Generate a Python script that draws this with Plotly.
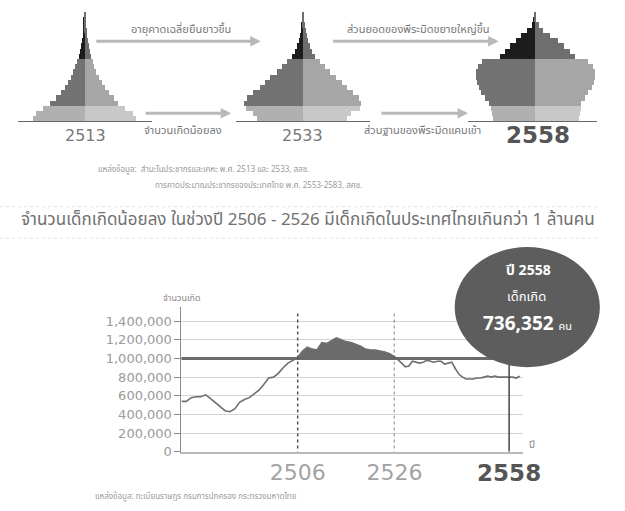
import plotly.graph_objects as go

W, H = 625, 511
def px(x):
    return x / W
def py(y):
    return 1 - y / H

# ---------------- data ----------------
# population pyramids: 21 five-year age rows (0-4 ... 100+), millions per sex
age_rows = list(range(21))
age_labels = ['0-4', '5-9', '10-14', '15-19', '20-24', '25-29', '30-34', '35-39',
              '40-44', '45-49', '50-54', '55-59', '60-64', '65-69', '70-74',
              '75-79', '80-84', '85-89', '90-94', '95-99', '100+']
age_group = ['young'] * 3 + ['work'] * 9 + ['old'] * 9

pyramid_years = ['2513', '2533', '2558']
male_2513 = [2.70, 2.55, 2.20, 1.80, 1.50, 1.25, 1.05, 0.90, 0.75, 0.60, 0.50,
             0.40, 0.30, 0.25, 0.20, 0.15, 0.12, 0.10, 0.08, 0.05, 0.04]
female_2513 = [2.70, 2.50, 2.10, 1.75, 1.50, 1.25, 1.05, 0.90, 0.75, 0.60, 0.50,
               0.40, 0.30, 0.25, 0.20, 0.15, 0.12, 0.10, 0.08, 0.05, 0.04]
male_2533 = [2.40, 2.60, 3.00, 3.10, 2.95, 2.60, 2.25, 2.00, 1.70, 1.35, 1.10,
             0.85, 0.55, 0.40, 0.30, 0.20, 0.15, 0.10, 0.06, 0.03, 0.02]
female_2533 = [2.30, 2.50, 3.00, 3.05, 2.95, 2.65, 2.30, 2.05, 1.75, 1.40, 1.15,
               0.90, 0.65, 0.50, 0.35, 0.25, 0.20, 0.15, 0.10, 0.05, 0.03]
male_2558 = [2.20, 2.25, 2.30, 2.40, 2.60, 2.80, 2.95, 3.05, 3.10, 3.10, 3.00,
             2.75, 1.80, 1.55, 1.30, 1.00, 0.70, 0.40, 0.15, 0.05, 0.03]
female_2558 = [2.30, 2.35, 2.40, 2.40, 2.60, 2.80, 3.00, 3.10, 3.15, 3.15, 3.05,
               2.80, 2.10, 1.85, 1.55, 1.20, 0.80, 0.45, 0.20, 0.08, 0.03]

# births per year (Buddhist Era years)
birth_years = list(range(2482, 2562))
births = [540000, 540000, 580000, 590000, 590000, 610000, 570000, 530000, 480000, 440000,
          430000, 460000, 530000, 560000, 580000, 620000, 660000, 720000, 790000, 800000,
          840000, 900000, 950000, 980000, 1010000,
          1080000, 1120000, 1100000, 1090000, 1170000, 1160000, 1190000, 1220000, 1200000, 1180000,
          1170000, 1150000, 1130000, 1100000, 1090000, 1090000, 1080000, 1070000, 1050000, 1020000,
          990000, 950000, 910000, 920000, 970000, 960000, 950000, 960000, 980000, 970000,
          960000, 970000, 970000, 940000, 950000, 960000, 890000, 830000, 800000, 780000,
          780000, 780000, 790000, 790000, 800000, 810000, 800000, 810000, 800000, 800000,
          800000, 800000, 800000, 790000, 810000]
million_line = 1000000
y_ticks = [0, 200000, 400000, 600000, 800000, 1000000, 1200000, 1400000]
marked_years = [2506, 2526]
latest_year = 2558
latest_births = 736352

# ---------------- figure ----------------
fig = go.Figure()

left_col = {'young': '#b0b0b0', 'work': '#727272', 'old': '#1c1c1c'}
right_col = {'young': '#c8c8c8', 'work': '#a6a6a6', 'old': '#6e6e6e'}
pyr_data = [(male_2513, female_2513), (male_2533, female_2533), (male_2558, female_2558)]
pyr_dom = [(19, 159, 3.5, 3.5), (247, 387, 3.5, 3.5), (490, 625, 3.5, 3.25)]

for i, (m, f) in enumerate(pyr_data):
    n = i + 3
    fig.add_trace(go.Bar(y=age_rows, x=[-v for v in m], orientation='h', width=1,
                         marker=dict(color=[left_col[g] for g in age_group], line=dict(width=0)),
                         xaxis=f'x{n}', yaxis=f'y{n}', showlegend=False, hoverinfo='skip'))
    fig.add_trace(go.Bar(y=age_rows, x=f, orientation='h', width=1,
                         marker=dict(color=[right_col[g] for g in age_group], line=dict(width=0)),
                         xaxis=f'x{n}', yaxis=f'y{n}', showlegend=False, hoverinfo='skip'))
    x0, x1, rl, rr = pyr_dom[i]
    fig.layout[f'xaxis{n}'] = dict(domain=[px(x0), px(x1)], range=[-rl, rr], anchor=f'y{n}',
                                   showline=True, linecolor='#666', linewidth=1,
                                   showticklabels=False, showgrid=False, zeroline=False, ticks='')
    fig.layout[f'yaxis{n}'] = dict(domain=[py(123), py(123 - 21 * 5.3)], range=[-0.5, 20.5],
                                   anchor=f'x{n}', visible=False)

# births line on a two-part time axis
clamped = [max(v, million_line) for v in births]
base = [million_line for _ in births]
for xa in ['x', 'x2']:
    fig.add_trace(go.Scatter(x=birth_years, y=base, mode='lines', line=dict(width=0),
                             xaxis=xa, yaxis='y', showlegend=False, hoverinfo='skip'))
    fig.add_trace(go.Scatter(x=birth_years, y=clamped, mode='lines', line=dict(width=0),
                             fill='tonexty', fillcolor='#6b6b6b',
                             xaxis=xa, yaxis='y', showlegend=False, hoverinfo='skip'))
    fig.add_trace(go.Scatter(x=birth_years, y=births, mode='lines',
                             line=dict(color='#6e6e6e', width=1.6),
                             xaxis=xa, yaxis='y', showlegend=False, hoverinfo='skip'))

fig.update_layout(
    width=W, height=H, margin=dict(l=0, r=0, t=0, b=0),
    paper_bgcolor='white', plot_bgcolor='white',
    barmode='relative', bargap=0,
    xaxis=dict(domain=[px(190), px(413)], range=[2482, 2526], anchor='y',
               tickvals=marked_years, ticktext=[str(v) for v in marked_years],
               tickfont=dict(family='DejaVu Sans', size=22, color='#a3a3a3'),
               showgrid=False, zeroline=False, showline=True, linecolor='#b8b8b8',
               linewidth=2, ticks=''),
    xaxis2=dict(domain=[px(413), px(548)], range=[2526, 2562], anchor='y',
                tickvals=[latest_year], ticktext=[str(latest_year)],
                tickfont=dict(family='DejaVu Sans', size=23, color='#555', weight='bold'),
                showgrid=False, zeroline=False, showline=True, linecolor='#b8b8b8',
                linewidth=2, ticks=''),
    yaxis=dict(domain=[py(459), py(312)], range=[0, 1550000], anchor='x',
               tickvals=y_ticks, ticktext=[f'{v:,}' for v in y_ticks],
               tickfont=dict(family='DejaVu Sans', size=13, color='#9a9a9a'),
               showgrid=True, gridcolor='#d4d4d4', gridwidth=1, zeroline=False,
               showline=True, linecolor='#8a8a8a', linewidth=1,
               ticks='outside', ticklen=6, tickcolor='#8a8a8a'),
)

shapes = []
# faint dotted separators
for yy in [210, 242]:
    shapes.append(dict(type='line', xref='paper', yref='paper', x0=0, x1=1,
                       y0=py(yy), y1=py(yy), line=dict(color='#e2e2e2', width=1, dash='dot')))
# one-million reference line
shapes.append(dict(type='line', xref='paper', yref='y', x0=px(190), x1=px(548),
                   y0=million_line, y1=million_line, line=dict(color='#6a6a6a', width=3)))
for yr in marked_years:
    shapes.append(dict(type='line', xref='x', yref='y', x0=yr, x1=yr, y0=-30000, y1=1500000,
                       line=dict(color='#555', width=1.5, dash='dot')))
shapes.append(dict(type='line', xref='x2', yref='y', x0=latest_year, x1=latest_year,
                   y0=0, y1=1000000, line=dict(color='#444', width=1.5)))
# badge
shapes.append(dict(type='circle', xref='paper', yref='paper', x0=px(476), x1=px(628),
                   y0=py(373), y1=py(251), fillcolor='#5d5d5d', line=dict(width=0),
                   layer='above'))
fig.update_layout(shapes=shapes)

TH = 'Noto Sans Thai, Tahoma, DejaVu Sans, sans-serif'
ann = []
def text(x, y, s, size, color, xanchor='center', bold=False, family=TH):
    ann.append(dict(x=px(x), y=py(y), xref='paper', yref='paper', text=s, showarrow=False,
                    xanchor=xanchor, yanchor='middle',
                    font=dict(family=family, size=size, color=color,
                              weight='bold' if bold else 'normal')))

def arrow(x0, x1, y):
    ann.append(dict(x=px(x1), y=py(y), xref='paper', yref='paper', ax=x0 - x1, ay=0,
                    axref='pixel', ayref='pixel', text='', showarrow=True,
                    arrowhead=2, arrowsize=0.7, arrowwidth=3, arrowcolor='#b8b8b8', standoff=0))

arrow(107, 273, 42)
arrow(355, 522, 42)
arrow(155, 242, 115)
arrow(402, 490, 115)

text(190, 30, 'อายุคาดเฉลี่ยยืนยาวขึ้น', 11, '#777')
text(438, 30, 'ส่วนยอดของพีระมิดขยายใหญ่ขึ้น', 11, '#777')
text(192, 133, 'จำนวนเกิดน้อยลง', 11, '#777')
text(442, 133, 'ส่วนฐานของพีระมิดแคบเข้า', 11, '#777')

pyr_centers = [89, 317, 563]
for yr, cx in zip(pyramid_years, pyr_centers):
    if yr == '2558':
        text(cx, 137, yr, 23, '#555', bold=True, family='DejaVu Sans')
    else:
        text(cx, 138, yr, 16, '#777', family='DejaVu Sans')

text(100, 173, 'แหล่งข้อมูล:  สำมะโนประชากรและเคหะ พ.ศ. 2513 และ 2533, สสช.', 8, '#9a9a9a', xanchor='left')
text(160, 189, 'การคาดประมาณประชากรของประเทศไทย พ.ศ. 2553-2583, สศช.', 8, '#9a9a9a', xanchor='left')

text(20, 223, 'จำนวนเด็กเกิดน้อยลง ในช่วงปี 2506 - 2526 มีเด็กเกิดในประเทศไทยเกินกว่า 1 ล้านคน',
     17, '#707070', xanchor='left')

text(191, 303, 'จำนวนเกิด', 9, '#888')
text(557, 452, 'ปี', 10, '#888')

text(553, 275, f'ปี {latest_year}', 14, 'white', bold=True)
text(551, 302, 'เด็กเกิด', 13, 'white')
ann.append(dict(x=px(552), y=py(330), xref='paper', yref='paper', showarrow=False,
                text=f'<b>{latest_births:,}</b> <span style="font-size:11px">คน</span>',
                xanchor='center', yanchor='middle',
                font=dict(family=TH, size=19, color='white')))

text(97, 505, 'แหล่งข้อมูล: ทะเบียนราษฎร กรมการปกครอง กระทรวงมหาดไทย', 8, '#9a9a9a', xanchor='left')

fig.update_layout(annotations=ann)
fig.write_html('out.html')
